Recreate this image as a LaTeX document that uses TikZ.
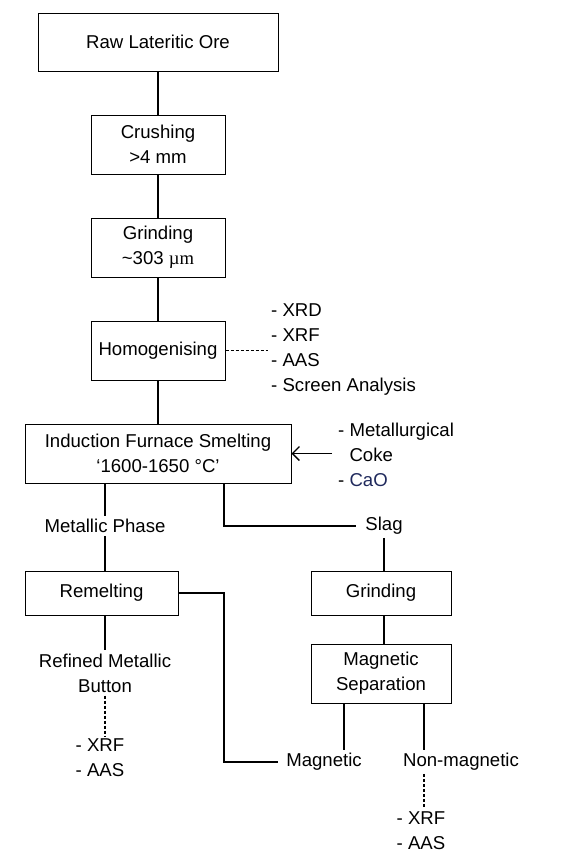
\documentclass[tikz,border=0pt]{standalone}
\usepackage{fontspec}
\setmainfont{Liberation Sans}
\newfontfamily\unitfont{Liberation Serif}
\usetikzlibrary{calc,arrows.meta}
\definecolor{caoblue}{rgb}{0.12,0.16,0.36}

\begin{document}
\begin{tikzpicture}[x=1pt,y=-1pt,font=\fontsize{18.6}{25}\selectfont]
		\useasboundingbox (0,0) rectangle (581,852);

		% process steps
		\begin{scope}[every node/.style={draw,line width=1pt,align=center,inner sep=0pt}]
			\node[minimum width=240,minimum height=58] (ore) at (158,42) {Raw Lateritic Ore};
			\node[minimum width=134,minimum height=59] (crush) at (158,144.5) {Crushing\\>4 mm};
			\node[minimum width=134,minimum height=59] (grind) at (158,247.5) {Grinding\\\textasciitilde 303 {\unitfont µm}};
			\node[minimum width=134,minimum height=59] (homog) at (158,350.5) {Homogenising};
			\node[minimum width=266,minimum height=59] (smelt) at (158,453.5) {Induction Furnace Smelting\\‘1600-1650 °C’};
			\node[minimum width=153,minimum height=44] (remelt) at (101.5,593) {Remelting};
			\node[minimum width=140,minimum height=44] (sgrind) at (381,593) {Grinding};
			\node[minimum width=140,minimum height=59] (magsep) at (381,673.5) {Magnetic\\Separation};
		\end{scope}

		% products and analyses
		\begin{scope}[every node/.style={inner sep=3pt}]
			\node[align=left,anchor=west] (anal) at (268,350) {- XRD\\- XRF\\- AAS\\- Screen Analysis};
			\node[align=left,anchor=west] (feed) at (335,455) {- Metallurgical\\\phantom{- }Coke\\- {\color{caoblue}CaO}};
			\node (mphase) at (105,526) {Metallic Phase};
			\node (slag) at (384,526) {Slag};
			\node[align=center] (button) at (105,673) {Refined Metallic\\Button};
			\node[align=left] (xrfa) at (100,758) {- XRF\\- AAS};
			\node (mag) at (324,762) {Magnetic};
			\node (nonmag) at (461,762) {Non-magnetic};
			\node[align=left] (xrfb) at (421,831) {- XRF\\- AAS};
		\end{scope}

		\coordinate (sj) at (224,527);
		\coordinate (mj) at (224,762);

		\begin{scope}[every path/.style={draw=black, line width=1.5pt}]
			\path (ore) -- (crush);
			\path (crush) -- (grind);
			\path (grind) -- (homog);
			\path (homog) -- (smelt);
			\path [-{Straight Barb[length=7pt,width=14pt,line width=1.3pt]}] ([xshift=-3pt]feed.west |- smelt.east) -- (smelt.east);
			\path (smelt.south -| mphase) -- (mphase);
			\path (mphase) -- (remelt.north -| mphase);
			\path (smelt.south -| sj) |- ([xshift=-6pt]slag.west);
			\path (slag) -- (sgrind.north -| slag);
			\path (sgrind.south -| slag) -- (magsep.north -| slag);
			\path (remelt.south -| button) -- (button);
			\path (remelt.east) -| (mj) -- ([xshift=-5pt]mag.west);
			\path ([xshift=-37pt]magsep.south) -- ([xshift=-37pt]magsep.south |- mag.north);
			\path ([xshift=43pt]magsep.south) -- ([xshift=43pt]magsep.south |- nonmag.north);
		\end{scope}

		\begin{scope}[every path/.style={draw=black, line width=1.3pt, dash pattern=on 3pt off 2pt}]
			\path (homog.east) -- (homog.east -| anal.west);
			\path (button.south) -- (button.south |- xrfa.north);
			\path ([xshift=43pt]magsep.south |- nonmag.south) -- ([xshift=43pt]magsep.south |- xrfb.north);
		\end{scope}
	\end{tikzpicture}
\end{document}
